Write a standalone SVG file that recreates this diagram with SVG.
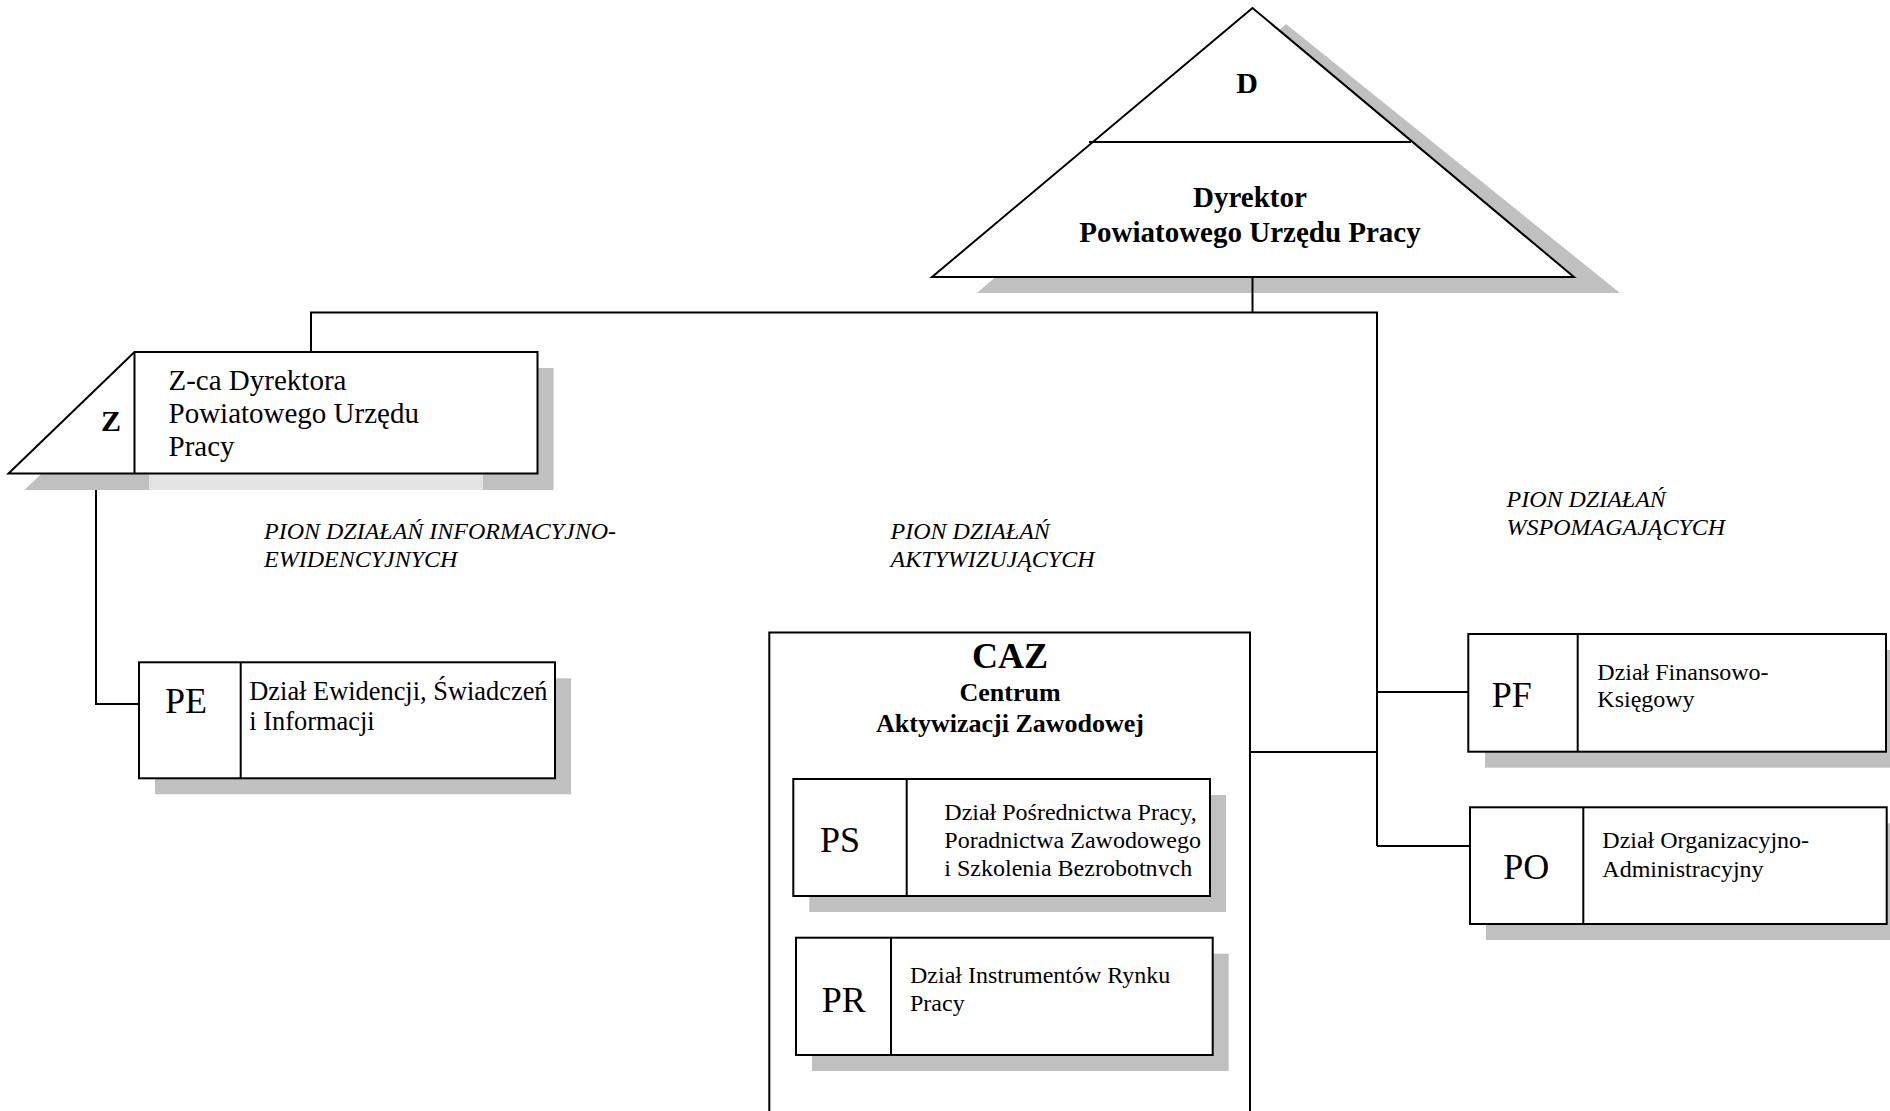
<svg xmlns="http://www.w3.org/2000/svg" width="1890" height="1111" viewBox="0 0 1890 1111">
<style>
.ln{stroke:#000;stroke-width:2;fill:none}
.box{fill:#fff;stroke:#000;stroke-width:2}
.sh{fill:#c0c0c0;stroke:none}
.t{font-family:"Liberation Serif","Times New Roman",serif;fill:#000}
.b{font-weight:bold}
.i{font-style:italic}
.code{font-size:36px}
.desc{font-size:24px}
.pion{font-size:24px;font-style:italic}
</style>
<defs>
<clipPath id="clipPS"><rect x="900" y="780" width="310" height="96.5"/></clipPath>
</defs>
<rect x="0" y="0" width="1890" height="1111" fill="#fff"/>

<g id="node-D">
<polygon class="sh" points="1286,24 977,293 1620,293"/>
<polygon class="box" points="1252.5,8 932,277 1574,277"/>
<line class="ln" x1="1089" y1="142" x2="1411" y2="142"/>
<text class="t b" x="1247" y="93" font-size="30" text-anchor="middle">D</text>
<text class="t b" x="1250" y="207" font-size="29" text-anchor="middle">Dyrektor</text>
<text class="t b" x="1250" y="242" font-size="29" text-anchor="middle">Powiatowego Urzędu Pracy</text>
</g>

<g id="node-Z">
<polygon class="sh" points="24.5,490 151,368 553.5,368 553.5,490"/>
<rect x="149" y="474" width="334" height="16" fill="#e4e4e4"/>
<polygon class="box" points="8.5,473.5 134.5,352 537.5,352 537.5,473.5"/>
<line class="ln" x1="134.5" y1="352" x2="134.5" y2="473.5"/>
<text class="t b" x="111" y="431" font-size="30" text-anchor="middle">Z</text>
<text class="t" x="168.5" y="390" font-size="29">Z-ca Dyrektora</text>
<text class="t" x="168.5" y="423" font-size="29">Powiatowego Urzędu</text>
<text class="t" x="168.5" y="456" font-size="29">Pracy</text>
</g>

<g id="label-pion-ie">
<text class="t pion" x="264" y="539">PION DZIAŁAŃ INFORMACYJNO-</text>
<text class="t pion" x="264" y="566.5">EWIDENCYJNYCH</text>
</g>
<g id="label-pion-akt">
<text class="t pion" x="890.5" y="539">PION DZIAŁAŃ</text>
<text class="t pion" x="890.5" y="566.5">AKTYWIZUJĄCYCH</text>
</g>
<g id="label-pion-wsp">
<text class="t pion" x="1506.5" y="507">PION DZIAŁAŃ</text>
<text class="t pion" x="1506.5" y="535">WSPOMAGAJĄCYCH</text>
</g>

<g id="node-PE">
<rect class="sh" x="155" y="678.3" width="416" height="116"/>
<rect class="box" x="139" y="662.3" width="416" height="116"/>
<line class="ln" x1="240.7" y1="662.3" x2="240.7" y2="778.3"/>
<text class="t code" x="165" y="713">PE</text>
<text class="t" x="249.3" y="700" font-size="26.4">Dział Ewidencji, Świadczeń</text>
<text class="t" x="249.3" y="730" font-size="26.4">i Informacji</text>
</g>

<g id="node-CAZ">
<rect class="box" x="769.3" y="632.5" width="480.7" height="500"/>
<text class="t b" x="1010" y="668" font-size="36" text-anchor="middle">CAZ</text>
<text class="t b" x="1010" y="701" font-size="26" text-anchor="middle">Centrum</text>
<text class="t b" x="1010" y="732" font-size="26" text-anchor="middle">Aktywizacji Zawodowej</text>
</g>

<g id="node-PS">
<rect class="sh" x="809.3" y="795" width="416.7" height="117"/>
<rect class="box" x="793.3" y="779" width="416.7" height="117"/>
<line class="ln" x1="906.7" y1="779" x2="906.7" y2="896"/>
<text class="t code" x="820" y="851.7">PS</text>
<text class="t desc" x="944.3" y="820">Dział Pośrednictwa Pracy,</text>
<text class="t desc" x="944.3" y="848">Poradnictwa Zawodowego</text>
<text class="t desc" x="944.3" y="875.5" clip-path="url(#clipPS)">i Szkolenia Bezrobotnych</text>
</g>

<g id="node-PR">
<rect class="sh" x="812" y="953.7" width="416.7" height="117.3"/>
<rect class="box" x="796" y="937.7" width="416.7" height="117.3"/>
<line class="ln" x1="891" y1="937.7" x2="891" y2="1055"/>
<text class="t code" x="821.7" y="1011.7">PR</text>
<text class="t desc" x="910" y="983.3">Dział Instrumentów Rynku</text>
<text class="t desc" x="910" y="1010.7">Pracy</text>
</g>

<g id="node-PF">
<rect class="sh" x="1485" y="650" width="417.7" height="117.7"/>
<rect class="box" x="1468.3" y="634" width="417.7" height="117.7"/>
<line class="ln" x1="1577.7" y1="634" x2="1577.7" y2="751.7"/>
<text class="t code" x="1491.7" y="706.7">PF</text>
<text class="t desc" x="1597.3" y="680">Dział Finansowo-</text>
<text class="t desc" x="1597.3" y="706.7">Księgowy</text>
</g>

<g id="node-PO">
<rect class="sh" x="1486" y="823.3" width="416.7" height="116.7"/>
<rect class="box" x="1470" y="807.3" width="416.7" height="116.7"/>
<line class="ln" x1="1583.3" y1="807.3" x2="1583.3" y2="924"/>
<text class="t code" x="1503.3" y="879.3">PO</text>
<text class="t desc" x="1602.3" y="848.3">Dział Organizacyjno-</text>
<text class="t desc" x="1602.3" y="876.7">Administracyjny</text>
</g>

<g id="connectors">
<line class="ln" x1="1252.5" y1="277" x2="1252.5" y2="312.5"/>
<polyline class="ln" points="311,352 311,312.5 1377,312.5 1377,846"/>
<line class="ln" x1="1377" y1="692" x2="1468.3" y2="692"/>
<line class="ln" x1="1377" y1="846" x2="1470" y2="846"/>
<line class="ln" x1="1250" y1="752" x2="1377" y2="752"/>
<polyline class="ln" points="96,490 96,704 139,704"/>
</g>
</svg>
